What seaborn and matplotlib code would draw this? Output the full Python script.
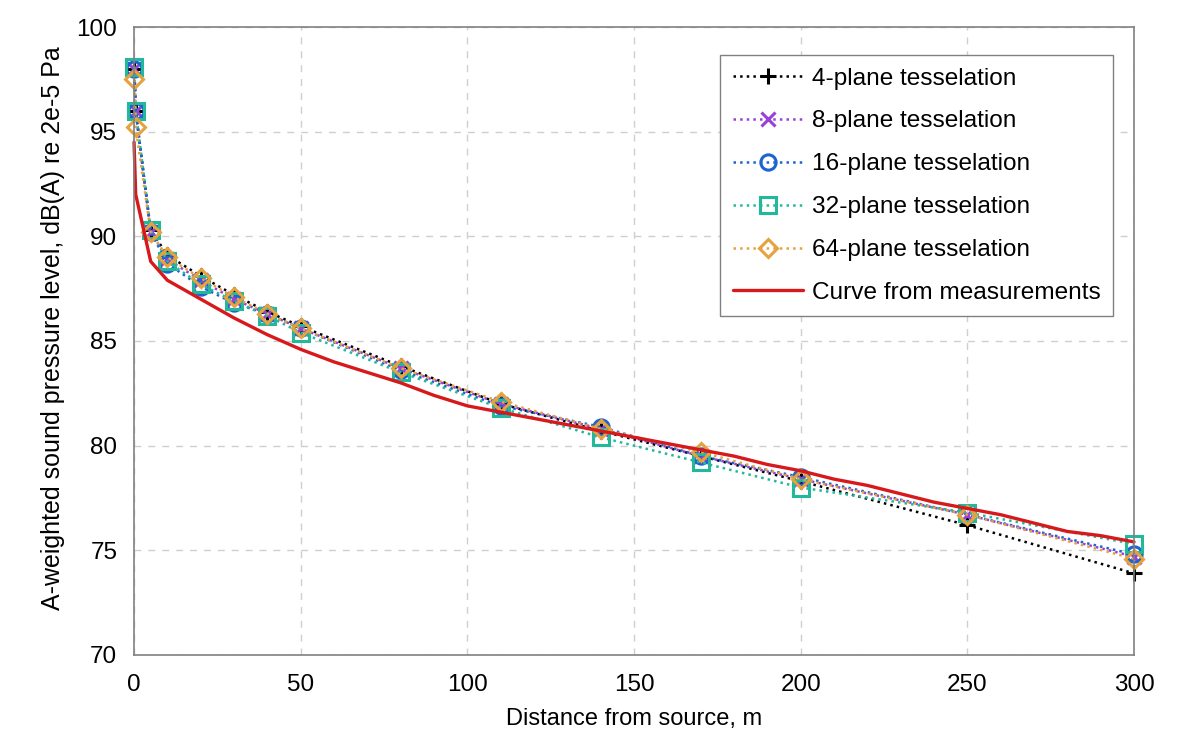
import numpy as np
import pandas as pd
import matplotlib
matplotlib.use("Agg")
import matplotlib.pyplot as plt
import seaborn as sns

# distances where the tesselation models were evaluated
dist = [0.1, 0.5, 5, 10, 20, 30, 40, 50, 80, 110, 140, 170, 200, 250, 300]

plane4 = [98.0, 96.0, 90.3, 89.1, 88.1, 87.2, 86.4, 85.7, 83.8, 82.0, 80.7, 79.5, 78.3, 76.2, 73.9]
plane8 = [98.0, 96.0, 90.2, 88.9, 87.9, 87.0, 86.3, 85.6, 83.7, 82.0, 80.8, 79.5, 78.4, 76.7, 74.7]
plane16 = [98.0, 96.0, 90.2, 88.7, 87.6, 86.8, 86.3, 85.6, 83.6, 81.9, 80.9, 79.5, 78.5, 76.7, 74.8]
plane32 = [98.1, 96.0, 90.3, 88.8, 87.7, 86.9, 86.2, 85.4, 83.5, 81.8, 80.4, 79.2, 78.0, 76.8, 75.3]
plane64 = [97.5, 95.2, 90.2, 89.0, 88.0, 87.1, 86.3, 85.6, 83.7, 82.1, 80.8, 79.7, 78.4, 76.7, 74.6]

# measured curve
meas_x = [0, 0.5, 5, 10, 20, 30, 40, 50, 60, 70, 80, 90, 100, 110, 120, 130, 140, 150,
          160, 170, 180, 190, 200, 210, 220, 230, 240, 250, 260, 270, 280, 290, 300]
meas_y = [94.5, 92.0, 88.8, 87.9, 87.0, 86.1, 85.3, 84.6, 84.0, 83.5, 83.0, 82.4, 81.9, 81.6,
          81.3, 81.0, 80.7, 80.4, 80.1, 79.8, 79.5, 79.1, 78.8, 78.4, 78.1, 77.7, 77.3, 77.0,
          76.7, 76.3, 75.9, 75.7, 75.4]

series = [
    ("4-plane tesselation", plane4, "black", "+", 12),
    ("8-plane tesselation", plane8, "#9b3fd9", "x", 10),
    ("16-plane tesselation", plane16, "#1c64d2", "o", 11),
    ("32-plane tesselation", plane32, "#22b99a", "s", 11),
    ("64-plane tesselation", plane64, "#e6a23c", "D", 9),
]

sns.set_style("white")
plt.rcParams['font.family'] = ['Liberation Sans', 'DejaVu Sans']
plt.rcParams['text.color'] = 'black'

fig = plt.figure(figsize=(11.82, 7.42), dpi=100)
ax = fig.add_axes([0.1134, 0.1173, 0.846, 0.8463])

for name, vals, col, mk, ms in series:
    sns.lineplot(x=dist, y=vals, ax=ax, color=col, linestyle=":", linewidth=1.8,
                 marker=mk, markersize=ms, markerfacecolor="none",
                 markeredgecolor=col, markeredgewidth=2.2, label=name, clip_on=False)

sns.lineplot(x=meas_x, y=meas_y, ax=ax, color="#d7191c", linewidth=2.4,
             label="Curve from measurements", clip_on=False)

ax.set_xlim(0, 300)
ax.set_ylim(70, 100)
ax.set_xticks(np.arange(0, 301, 50))
ax.set_yticks(np.arange(70, 101, 5))
ax.grid(True, color="#cfcfcf", linestyle=(0, (5, 5)), linewidth=1)
for sp in ax.spines.values():
    sp.set_color("#808080")
    sp.set_linewidth(1.2)
ax.tick_params(axis="both", labelsize=17.5, length=0, labelcolor="black")
ax.tick_params(axis="x", pad=14)
ax.tick_params(axis="y", pad=12)
ax.set_xlabel("Distance from source, m", fontsize=17, labelpad=8, color="black")
ax.set_ylabel("A-weighted sound pressure level, dB(A) re 2e-5 Pa", fontsize=18,
              color="black")
ax.yaxis.set_label_coords(-0.069, 0.52)

leg = ax.legend(loc="upper right", bbox_to_anchor=(0.979, 0.955), fontsize=17.6,
                frameon=True, fancybox=False, edgecolor="#808080", framealpha=1,
                handlelength=2.9, handletextpad=0.35, labelspacing=0.85,
                borderpad=0.5, borderaxespad=0)
leg.get_frame().set_linewidth(1)

fig.savefig("out.png", dpi=100)
